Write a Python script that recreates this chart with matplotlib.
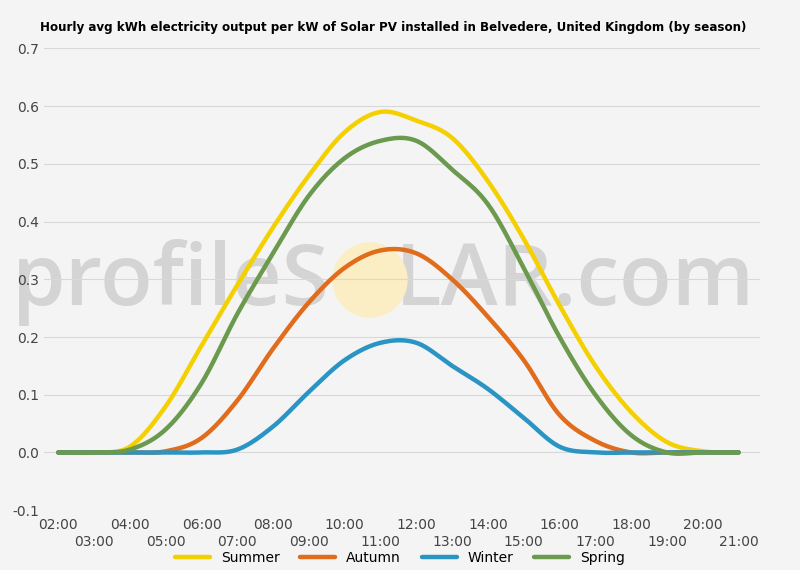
import numpy as np
import matplotlib
matplotlib.use("Agg")
import matplotlib.pyplot as plt
from matplotlib.patches import Circle

hours = list(range(2, 22))
summer = [0, 0, 0.01, 0.08, 0.185, 0.29, 0.39, 0.48, 0.555, 0.59, 0.575, 0.545, 0.47, 0.37, 0.255, 0.15, 0.07, 0.018, 0.002, 0]
autumn = [0, 0, 0, 0.002, 0.025, 0.09, 0.18, 0.26, 0.32, 0.35, 0.345, 0.30, 0.235, 0.16, 0.065, 0.02, 0.0, 0, 0, 0]
winter = [0, 0, 0, 0, 0, 0.005, 0.045, 0.105, 0.16, 0.19, 0.19, 0.15, 0.11, 0.06, 0.01, 0, 0, 0, 0, 0]
spring = [0, 0, 0.005, 0.04, 0.12, 0.24, 0.345, 0.445, 0.51, 0.54, 0.54, 0.49, 0.43, 0.32, 0.20, 0.10, 0.03, 0, 0, 0]
tick_labels = [f"{h:02d}:00" for h in hours]

def smooth(x, y, n=20):
    x = np.asarray(x, float); y = np.asarray(y, float)
    xs, ys = [], []
    m = np.zeros_like(y)
    d = np.diff(y) / np.diff(x)
    m[1:-1] = (d[:-1] + d[1:]) / 2
    for i in range(len(x) - 1):
        t = np.linspace(0, 1, n, endpoint=False)
        h = x[i+1] - x[i]
        h00 = 2*t**3 - 3*t**2 + 1; h10 = t**3 - 2*t**2 + t
        h01 = -2*t**3 + 3*t**2; h11 = t**3 - t**2
        xs.append(x[i] + t*h)
        ys.append(h00*y[i] + h10*h*m[i] + h01*y[i+1] + h11*h*m[i+1])
    xs.append([x[-1]]); ys.append([y[-1]])
    return np.concatenate(xs), np.concatenate(ys)

fig = plt.figure(figsize=(8, 5.7), dpi=100)
fig.patch.set_facecolor("#f4f4f4")
ax = fig.add_axes([0.055, 0.105, 0.895, 0.81])
ax.set_facecolor("#f4f4f4")

ax.text(330/800, 1-283/570, "profileS", fontsize=62, color="#d4d4d4", ha="right", va="center",
        zorder=0, transform=fig.transFigure, family="Open Sans", fontweight="semibold")
ax.text(395/800, 1-283/570, "LAR.com", fontsize=62, color="#d4d4d4", ha="left", va="center",
        zorder=0, transform=fig.transFigure, family="Open Sans", fontweight="semibold")
ax.add_patch(Circle((3.7, 5.7-2.8), 0.37, transform=fig.dpi_scale_trans, color="#fbeec4", zorder=0))

for vals, c, lab in [(summer, "#f5d000", "Summer"), (autumn, "#e06c1c", "Autumn"),
                     (winter, "#2a95c4", "Winter"), (spring, "#6b9a4e", "Spring")]:
    xs, ys = smooth(hours, vals)
    ax.plot(xs, ys, color=c, lw=3.2, label=lab, solid_capstyle="round")

ax.set_xlim(1.6, 21.6)
ax.set_ylim(-0.1, 0.7)
ax.set_yticks(np.arange(-0.1, 0.71, 0.1))
ax.set_yticklabels([f"{v:.1f}" for v in np.arange(-0.1, 0.71, 0.1)])
ax.grid(axis="y", color="#d8d8d8", lw=0.8)
ax.set_xticks(hours)
ax.set_xticklabels(["\n"*(i % 2) + t for i, t in enumerate(tick_labels)])
ax.tick_params(axis="both", length=0, labelsize=10, colors="#444444")
ax.tick_params(axis="x", pad=6)
for s in ax.spines.values():
    s.set_visible(False)
fig.text(40/800, 1-28/570, "Hourly avg kWh electricity output per kW of Solar PV installed in Belvedere, United Kingdom (by season)",
         fontsize=8.6, fontweight="bold", ha="left", va="center")
leg = ax.legend(loc="center", ncol=4, frameon=False, fontsize=10, handlelength=2.5, columnspacing=1.5)
leg.set_bbox_to_anchor((400/800, 1-558/570), transform=fig.transFigure)
fig.savefig("out.png")
